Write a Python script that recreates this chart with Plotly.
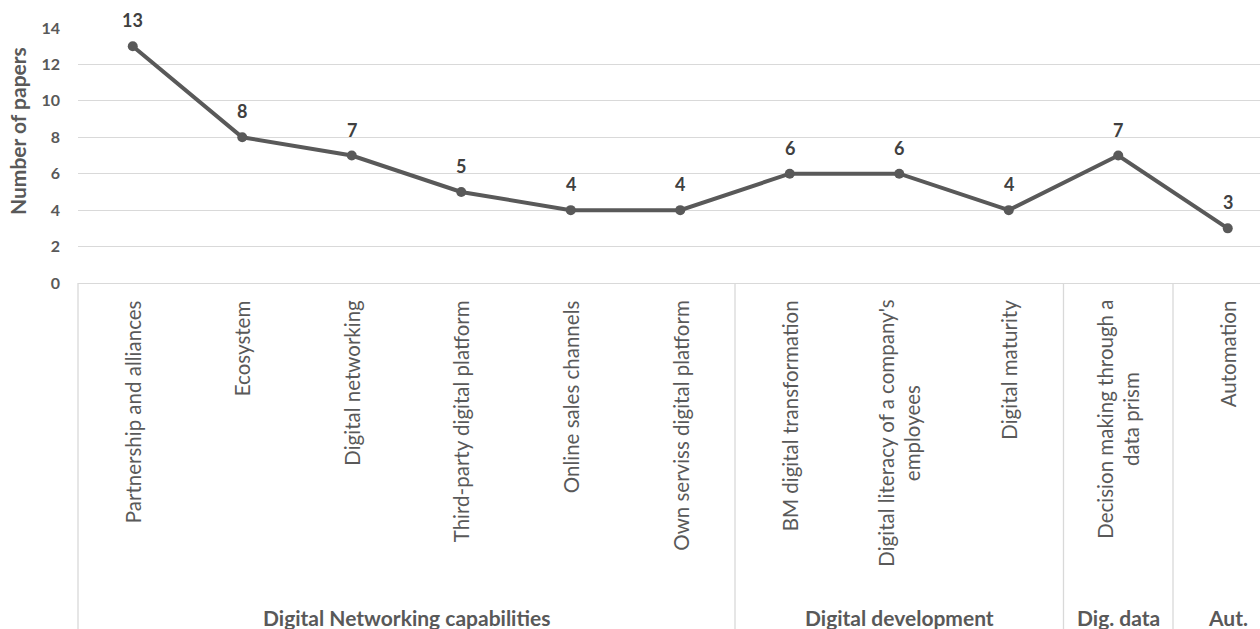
import plotly.graph_objects as go

# Number of papers per digital capability, grouped into four families
categories = [
    "Partnership and alliances",
    "Ecosystem",
    "Digital networking",
    "Third-party digital platform",
    "Online sales channels",
    "Own serviss digital platform",
    "BM digital transformation",
    "Digital literacy of a company's<br>employees",
    "Digital maturity",
    "Decision making through a<br>data prism",
    "Automation",
]
papers = [13, 8, 7, 5, 4, 4, 6, 6, 4, 7, 3]

groups = ["Digital Networking capabilities", "Digital development", "Dig. data", "Aut."]
group_sizes = [6, 3, 1, 1]

y_ticks = [0, 2, 4, 6, 8, 10, 12, 14]

W, H = 1260, 629
M_L, M_R, M_T, M_B = 78, 0, 28, 346
CAT_W = 109.5  # pixel width of one category slot
x_lo = -0.5
x_hi = x_lo + (W - M_L - M_R) / CAT_W
plot_h = H - M_T - M_B

FONT = "Lato"
GRID = "#d9d9d9"
DARK = "#595959"

x_idx = list(range(len(categories)))

fig = go.Figure()
fig.add_trace(go.Scatter(
    x=x_idx, y=papers, mode="lines+markers",
    line=dict(color=DARK, width=4),
    marker=dict(color=DARK, size=10),
    hoverinfo="skip", showlegend=False, cliponaxis=False,
))

annotations = []
# value labels above each point
for i, v in zip(x_idx, papers):
    annotations.append(dict(
        x=i, y=v, xref="x", yref="y", text=f"<b>{v}</b>", showarrow=False,
        yanchor="bottom", yshift=13, font=dict(family=FONT, size=18, color="#404040"),
    ))

# rotated category labels under the axis
for i, c in zip(x_idx, categories):
    annotations.append(dict(
        x=i, y=-15 / plot_h, xref="x", yref="paper", text=c, showarrow=False,
        textangle=-90, xanchor="center", yanchor="top", align="center",
        font=dict(family=FONT, size=20.5, color=DARK),
    ))

# y-axis title
annotations.append(dict(
    x=0, y=(H - M_B - 131) / plot_h, xref="paper", yref="paper", xshift=-(M_L - 17),
    text="<b>Number of papers</b>", showarrow=False, textangle=-90,
    xanchor="center", yanchor="middle",
    font=dict(family=FONT, size=21, color=DARK),
))

def to_paper(xv):
    return (xv - x_lo) / (x_hi - x_lo)

shapes = []
start = 0
bottom = -(M_B + 5) / plot_h
shapes.append(dict(type="line", xref="paper", yref="paper",
                   x0=to_paper(-0.5), x1=to_paper(-0.5), y0=0, y1=bottom,
                   line=dict(color=GRID, width=1.3)))
for g, n in zip(groups, group_sizes):
    centre = start + (n - 1) / 2
    annotations.append(dict(
        x=centre, y=-(618 - (H - M_B)) / plot_h, xref="x", yref="paper",
        text=f"<b>{g}</b>", showarrow=False, xanchor="center", yanchor="middle",
        font=dict(family=FONT, size=21, color=DARK),
    ))
    edge = start + n - 0.5
    shapes.append(dict(type="line", xref="paper", yref="paper",
                       x0=to_paper(edge), x1=to_paper(edge), y0=0, y1=bottom,
                       line=dict(color=GRID, width=1.3)))
    start += n

fig.update_layout(
    width=W, height=H,
    margin=dict(l=M_L, r=M_R, t=M_T, b=M_B, pad=0),
    paper_bgcolor="white", plot_bgcolor="white",
    xaxis=dict(range=[x_lo, x_hi], showgrid=False, zeroline=False,
               showticklabels=False, showline=False, fixedrange=True),
    yaxis=dict(range=[0, 14], tickvals=y_ticks, ticktext=[f"<b>{t}</b>" for t in y_ticks],
               showgrid=True, gridcolor=GRID, gridwidth=1.3, zeroline=True,
               zerolinecolor=GRID, zerolinewidth=1.3, showline=False,
               tickfont=dict(family=FONT, size=16, color=DARK),
               ticklabelstandoff=17),
    annotations=annotations, shapes=shapes,
)

fig.write_html("out.html")
